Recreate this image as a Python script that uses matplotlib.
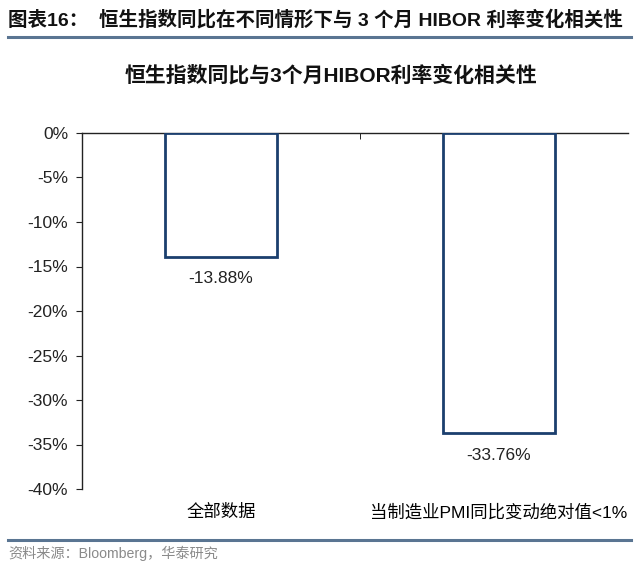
import matplotlib.pyplot as plt
from matplotlib.lines import Line2D
from matplotlib.ticker import FuncFormatter

plt.rcParams['font.family'] = ['Liberation Sans', 'Noto Sans CJK SC', 'DejaVu Sans']

categories = ["全部数据", "当制造业PMI同比变动绝对值<1%"]
values = [-13.88, -33.76]
yticks = [0, -5, -10, -15, -20, -25, -30, -35, -40]

W, H = 639, 570
fig = plt.figure(figsize=(W / 100, H / 100), dpi=100)

# axes: 0% at y=133px, -40% at y=489px, x from 82 to 638
ax = fig.add_axes([82 / W, 1 - 489 / H, (638 - 82) / W, (489 - 133) / H])

x = range(len(categories))
ax.bar(x, values, width=0.4, color="white", edgecolor="#1b3f6e", linewidth=2.0, zorder=3)

for xi, v in zip(x, values):
    ax.annotate("%.2f%%" % v, (xi, v), xytext=(0, -16), textcoords="offset points",
                ha="center", va="center", fontsize=12.5, color="#222222")

ax.set_xlim(-0.5, 1.5)
ax.set_ylim(-40, 0)
ax.set_yticks(yticks)
ax.yaxis.set_major_formatter(FuncFormatter(lambda v, p: "%d%%" % v))
ax.tick_params(axis="y", direction="out", length=4, labelsize=12.5, pad=6, colors="#222222")

ax.set_xticks(list(x))
ax.set_xticklabels(categories, fontsize=12.5)
ax.tick_params(axis="x", which="major", length=0, pad=11)
ax.set_xticks([0.5], minor=True)
ax.tick_params(axis="x", which="minor", top=True, bottom=False, direction="in", length=4)

ax.spines["right"].set_visible(False)
ax.spines["bottom"].set_visible(False)
ax.spines["top"].set_bounds(-0.5, 1.465)
for s in ["top", "left"]:
    ax.spines[s].set_linewidth(1.0)
    ax.spines[s].set_color("#222222")

# header, title and source
fig.text(8 / W, 1 - 20 / H, "图表16：  恒生指数同比在不同情形下与 3 个月 HIBOR 利率变化相关性",
         fontsize=14, fontweight="bold", ha="left", va="center", color="#111111")
fig.add_artist(Line2D([8 / W, 631 / W], [1 - 37 / H, 1 - 37 / H], color="#5a7592", linewidth=2.2))
fig.text(331 / W, 1 - 75 / H, "恒生指数同比与3个月HIBOR利率变化相关性",
         fontsize=15, fontweight="bold", ha="center", va="center", color="#111111")
fig.add_artist(Line2D([8 / W, 631 / W], [1 - 540 / H, 1 - 540 / H], color="#5a7592", linewidth=2.2))
fig.text(8 / W, 1 - 553 / H, "资料来源：Bloomberg，华泰研究",
         fontsize=10.2, ha="left", va="center", color="#8a8a8a")

plt.savefig("out.png", dpi=100)
